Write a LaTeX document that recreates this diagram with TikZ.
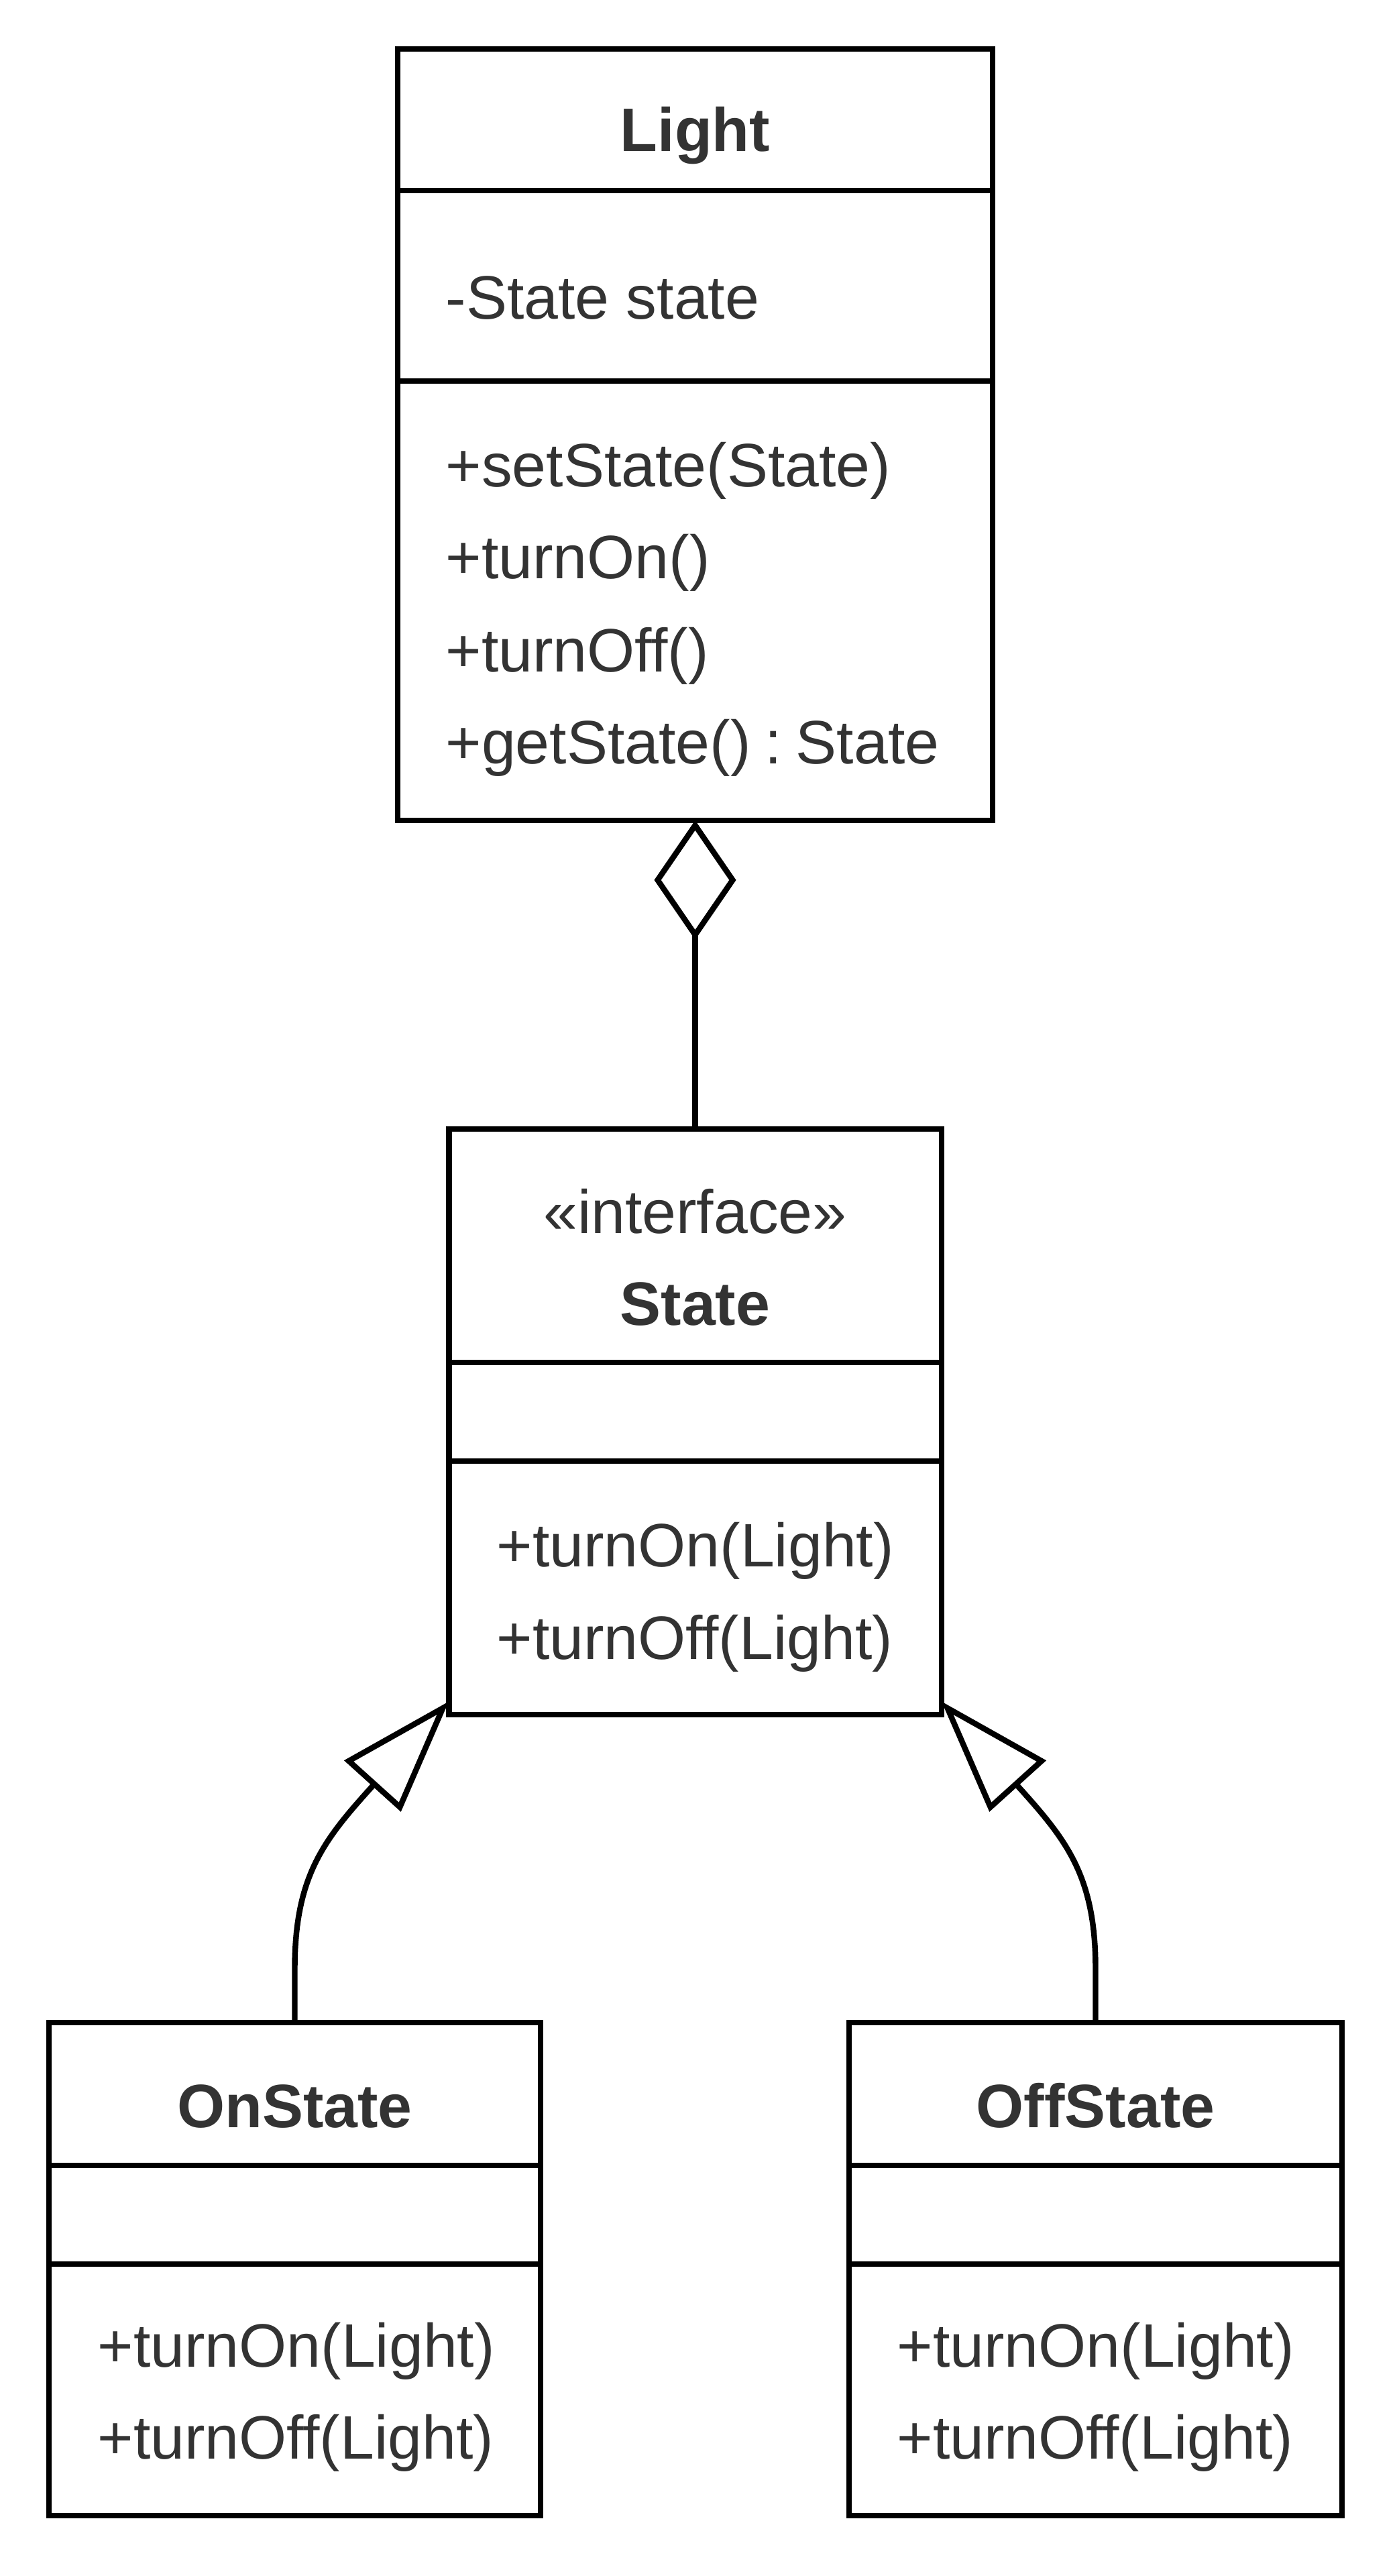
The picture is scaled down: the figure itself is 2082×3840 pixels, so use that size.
\documentclass[tikz,border=0pt]{standalone}
\usepackage{fontspec}
\setmainfont{Liberation Sans}
\usetikzlibrary{arrows.meta,calc}
\definecolor{txtc}{HTML}{333333}
\begin{document}
\begin{tikzpicture}[x=0.01cm,y=-0.01cm,
  box/.style={draw=black, line width=2.4pt, rectangle, inner sep=0pt, outer sep=0pt},
  div/.style={draw=black, line width=2.4pt},
  txt/.style={font=\fontsize{26}{31}\selectfont, text=txtc, inner sep=0pt, anchor=base west},
  ttl/.style={font=\fontsize{26}{31}\selectfont\bfseries, text=txtc, inner sep=0pt, anchor=base},
  stereo/.style={font=\fontsize{26}{31}\selectfont, text=txtc, inner sep=0pt, anchor=base},
  agg/.style={line width=2.4pt, {Diamond[open,length=1.78cm,width=1.22cm]}-},
  inh/.style={line width=2.4pt, -{Triangle[open,length=1.7cm,width=1.12cm]}}
]
\useasboundingbox (0,0) rectangle (2082,3840);

% Light
\node[box, minimum width=8.86cm, minimum height=11.49cm] (light) at (1036.5,648) {};
\draw[div] (light.west |- 0,284) -- (light.east |- 0,284);
\draw[div] (light.west |- 0,568) -- (light.east |- 0,568);
\node[ttl] (lt) at (1036.5,226) {Light};
\node[txt] (la) at (664,476) {-State state};
\node[txt] (lm1) at (664,726) {+setState(State)};
\node[txt] (lm2) at (664,863) {+turnOn()};
\node[txt] (lm3) at (664,1001) {+turnOff()};
\node[txt] (lm4) at (664,1138) {+getState()\hspace{0.23em}:\hspace{0.23em}State};

% State
\node[box, minimum width=7.34cm, minimum height=8.73cm] (state) at (1036.5,2119.5) {};
\draw[div] (state.west |- 0,2031) -- (state.east |- 0,2031);
\draw[div] (state.west |- 0,2178) -- (state.east |- 0,2178);
\node[stereo] (sst) at (1036.5,1838) {«interface»};
\node[ttl] (st) at (1036.5,1975) {State};
\node[txt] (sm1) at (740,2335) {+turnOn(Light)};
\node[txt] (sm2) at (740,2473) {+turnOff(Light)};

% OnState
\node[box, minimum width=7.33cm, minimum height=7.35cm] (on) at (439.5,3382.5) {};
\draw[div] (on.west |- 0,3228) -- (on.east |- 0,3228);
\draw[div] (on.west |- 0,3375) -- (on.east |- 0,3375);
\node[ttl] (ont) at (439.5,3171) {OnState};
\node[txt] (onm1) at (145,3528) {+turnOn(Light)};
\node[txt] (onm2) at (145,3665) {+turnOff(Light)};

% OffState
\node[box, minimum width=7.35cm, minimum height=7.35cm] (off) at (1633.5,3382.5) {};
\draw[div] (off.west |- 0,3228) -- (off.east |- 0,3228);
\draw[div] (off.west |- 0,3375) -- (off.east |- 0,3375);
\node[ttl] (offt) at (1633.5,3171) {OffState};
\node[txt] (offm1) at (1337,3528) {+turnOn(Light)};
\node[txt] (offm2) at (1337,3665) {+turnOff(Light)};

% connectors
\draw[agg] (light.south) -- (state.north);
\coordinate (tipL) at ($(state.south west)+(0,-20)$);
\coordinate (tipR) at ($(state.south east)+(0,-20)$);
\draw[inh] (on.north) -- ++(0,-80) .. controls +(0,-140) and ($(tipL)+(-185,205)$) .. (tipL);
\draw[inh] (off.north) -- ++(0,-80) .. controls +(0,-140) and ($(tipR)+(185,205)$) .. (tipR);
\end{tikzpicture}
\end{document}
